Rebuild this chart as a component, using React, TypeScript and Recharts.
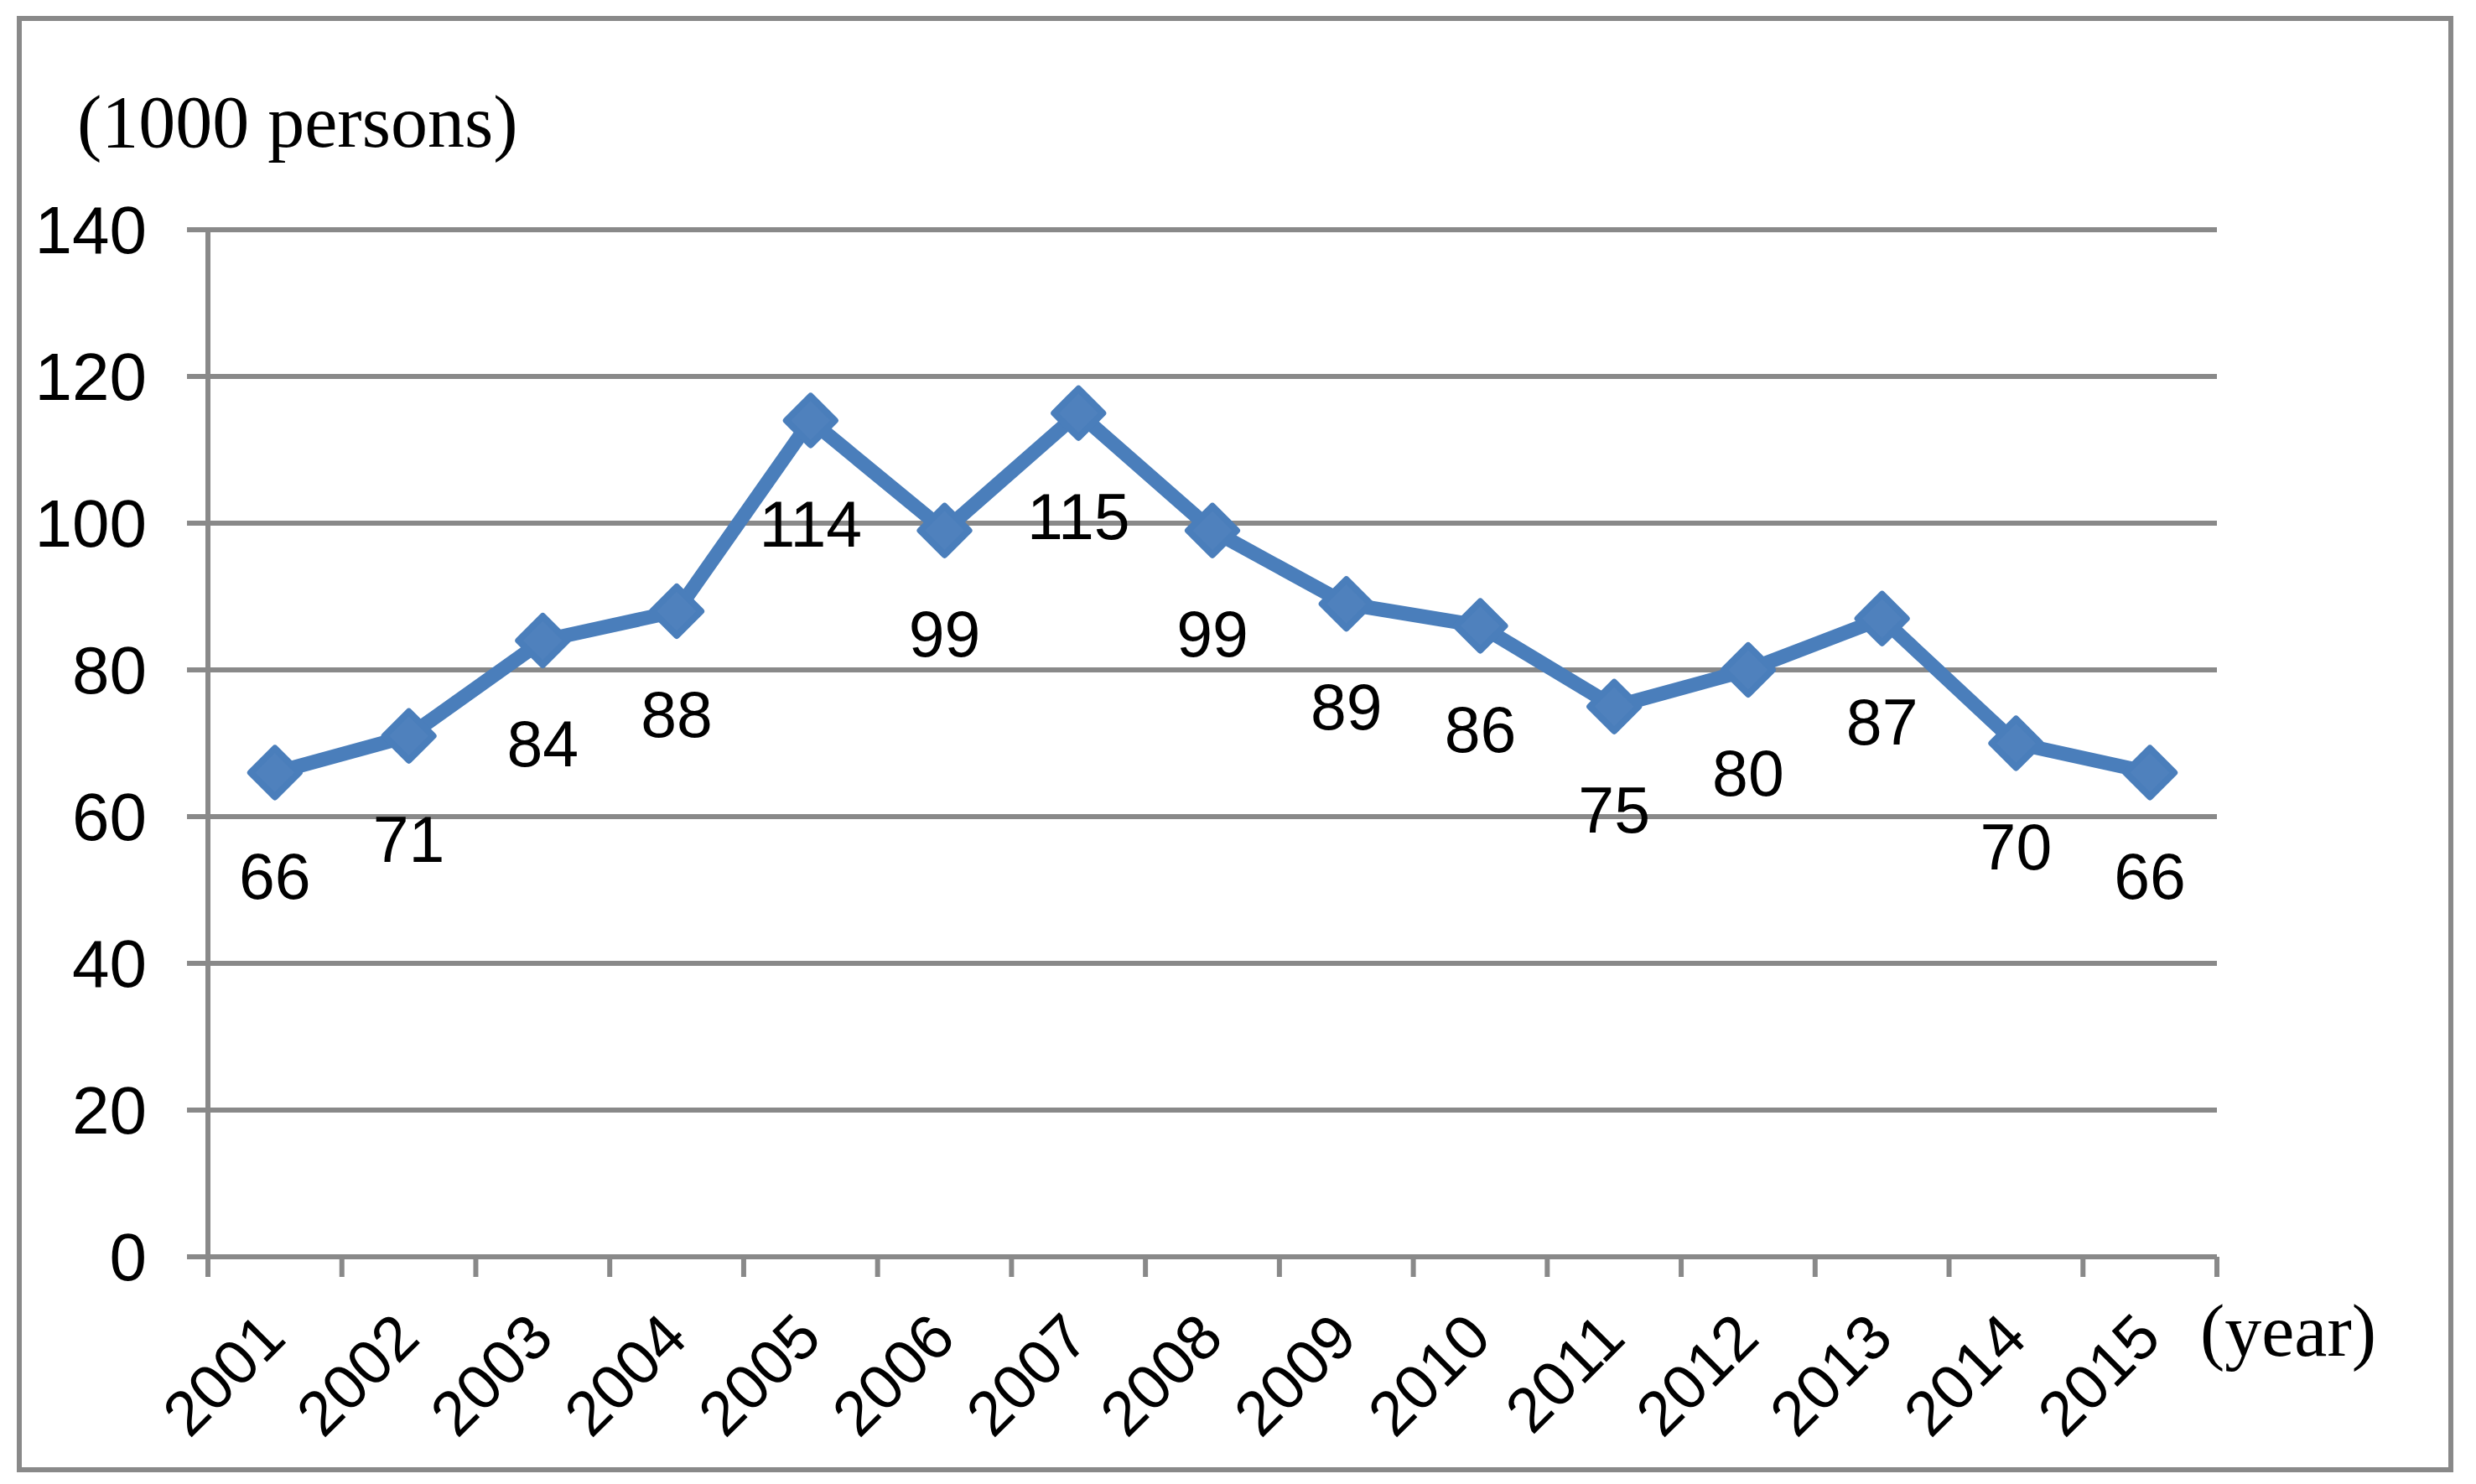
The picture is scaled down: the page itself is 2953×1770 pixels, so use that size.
import React from "react";
import {
  LineChart,
  Line,
  XAxis,
  YAxis,
  CartesianGrid,
  LabelList,
} from "recharts";

const years = [
  "2001", "2002", "2003", "2004", "2005", "2006", "2007", "2008",
  "2009", "2010", "2011", "2012", "2013", "2014", "2015",
];
const persons = [66, 71, 84, 88, 114, 99, 115, 99, 89, 86, 75, 80, 87, 70, 66];
const yTicks = [0, 20, 40, 60, 80, 100, 120, 140];

const data = years.map((year, i) => ({ year, value: persons[i] }));

const W = 2953;
const H = 1770;
const PLOT_LEFT = 248;
const PLOT_RIGHT = 2644;
const BAND = (PLOT_RIGHT - PLOT_LEFT) / years.length;
const GRID = "#898989";
const BLUE = "#4A7EBB";
const SANS = "'Liberation Sans', Arial, sans-serif";
const SERIF = "'Liberation Serif', 'Times New Roman', serif";

function Diamond(props: any) {
  const { cx, cy } = props;
  if (cx == null || cy == null) return null;
  const r = 29;
  return (
    <polygon
      points={`${cx},${cy - r} ${cx + r},${cy} ${cx},${cy + r} ${cx - r},${cy}`}
      fill="#4F81BD"
      stroke={BLUE}
      strokeWidth={8}
      strokeLinejoin="round"
    />
  );
}

function XTick(props: any) {
  const { x, y, payload, index } = props;
  const half = BAND / 2;
  return (
    <g>
      <line x1={x - half} y1={y} x2={x - half} y2={y + 24} stroke={GRID} strokeWidth={6} />
      {index === years.length - 1 && (
        <line x1={x + half} y1={y} x2={x + half} y2={y + 24} stroke={GRID} strokeWidth={6} />
      )}
      <text
        transform={`translate(${x + 16},${y + 100}) rotate(-45)`}
        textAnchor="end"
        fontSize={75}
        fontFamily={SANS}
        fill="#000"
      >
        {payload.value}
      </text>
    </g>
  );
}

function ValueLabel(props: any) {
  const { x, y, value } = props;
  return (
    <text x={x} y={y + 150} textAnchor="middle" fontSize={77} fontFamily={SANS} fill="#000">
      {value}
    </text>
  );
}

export default function App() {
  return (
    <div style={{ position: "relative", width: W, height: H, background: "#fff" }}>
      <style>{"body{margin:0}"}</style>
      <div
        style={{
          position: "absolute",
          left: 20,
          top: 19,
          width: 2906,
          height: 1737,
          border: `6px solid ${GRID}`,
          boxSizing: "border-box",
        }}
      />
      <LineChart
        width={W}
        height={H}
        data={data}
        margin={{ top: 274, right: W - PLOT_RIGHT, bottom: 71, left: 48 }}
        style={{ position: "absolute", left: 0, top: 0 }}
      >
        <CartesianGrid vertical={false} stroke={GRID} strokeWidth={6} />
        <XAxis
          dataKey="year"
          scale="point"
          padding={{ left: BAND / 2, right: BAND / 2 }}
          height={200}
          interval={0}
          tickSize={0}
          tickMargin={0}
          tickLine={false}
          axisLine={{ stroke: GRID, strokeWidth: 6 }}
          tick={<XTick />}
          label={{
            value: "(year)",
            content: () => (
              <text x={2624} y={1617} fontSize={88} fontFamily={SERIF} fill="#000">
                (year)
              </text>
            ),
          }}
        />
        <YAxis
          width={200}
          domain={[0, 140]}
          ticks={yTicks}
          interval={0}
          tickSize={25}
          tickMargin={48}
          axisLine={{ stroke: GRID, strokeWidth: 6 }}
          tickLine={{ stroke: GRID, strokeWidth: 6 }}
          tick={{ fontSize: 80, fill: "#000", fontFamily: SANS }}
          label={{
            value: "(1000 persons)",
            content: () => (
              <text x={92} y={175} fontSize={88} fontFamily={SERIF} fill="#000">
                (1000 persons)
              </text>
            ),
          }}
        />
        <Line
          type="linear"
          dataKey="value"
          stroke={BLUE}
          strokeWidth={17}
          strokeLinejoin="round"
          dot={<Diamond />}
          activeDot={false}
          isAnimationActive={false}
        >
          <LabelList dataKey="value" content={<ValueLabel />} />
        </Line>
      </LineChart>
    </div>
  );
}
